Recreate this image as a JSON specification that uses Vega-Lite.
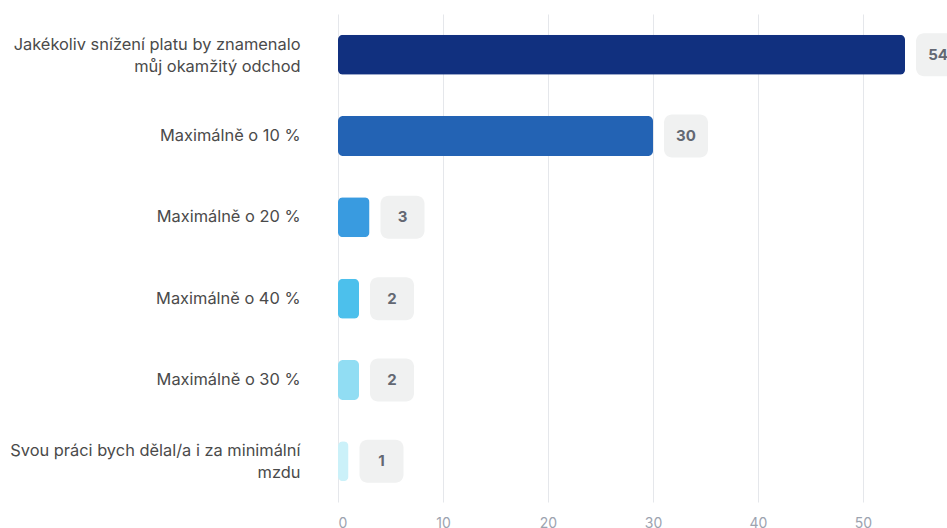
{
  "$schema": "https://vega.github.io/schema/vega-lite/v6.json",
  "autosize": {"type": "none"},
  "width": 609,
  "height": 488,
  "padding": {"left": 338, "top": 14, "right": 0, "bottom": 26},
  "background": "white",
  "config": {"view": {"stroke": null}, "font": "Inter"},
  "data": {
    "values": [
      {"label": "Jakékoliv snížení platu by znamenalo|můj okamžitý odchod", "value": 54, "color": "#11307F"},
      {"label": "Maximálně o 10 %", "value": 30, "color": "#2363B4"},
      {"label": "Maximálně o 20 %", "value": 3, "color": "#399BE0"},
      {"label": "Maximálně o 40 %", "value": 2, "color": "#4CC0EC"},
      {"label": "Maximálně o 30 %", "value": 2, "color": "#91DDF3"},
      {"label": "Svou práci bych dělal/a i za minimální|mzdu", "value": 1, "color": "#CBF1F9"}
    ]
  },
  "encoding": {
    "y": {
      "field": "label",
      "type": "nominal",
      "sort": null,
      "title": null,
      "axis": {
        "domain": false,
        "ticks": false,
        "labelPadding": 38,
        "labelFontSize": 16.4,
        "labelColor": "#4a4a4a",
        "labelLimit": 400,
        "labelLineHeight": 22,
        "labelOffset": {"condition": {"test": "indexof(datum.label, '|') >= 0", "value": -10}, "value": 0},
        "labelExpr": "split(datum.label, '|')"
      }
    }
  },
  "layer": [
    {
      "mark": {"type": "bar", "height": 40, "cornerRadius": 5},
      "encoding": {
        "x": {
          "field": "value",
          "type": "quantitative",
          "scale": {"domain": [0, 58], "nice": false},
          "title": null,
          "axis": {
            "values": [0, 10, 20, 30, 40, 50],
            "domain": false,
            "ticks": false,
            "grid": true,
            "gridColor": "#e5e7eb",
            "gridWidth": 1,
            "labelColor": "#9ca3af",
            "labelFontSize": 14,
            "labelPadding": 14
          }
        },
        "color": {"field": "color", "type": "nominal", "scale": null}
      }
    },
    {
      "mark": {"type": "rule", "color": "#c8d4f0", "strokeWidth": 1},
      "encoding": {"x": {"datum": 0, "type": "quantitative"}}
    },
    {
      "mark": {"type": "bar", "height": 43, "cornerRadius": 8, "color": "#f0f1f1", "xOffset": 11, "x2Offset": 55},
      "encoding": {
        "x": {"field": "value", "type": "quantitative"},
        "x2": {"field": "value"}
      }
    },
    {
      "mark": {"type": "text", "dx": 33, "fontSize": 15, "fontWeight": "bold", "color": "#636873", "align": "center", "baseline": "middle"},
      "encoding": {
        "x": {"field": "value", "type": "quantitative"},
        "text": {"field": "value", "type": "quantitative"}
      }
    }
  ]
}
